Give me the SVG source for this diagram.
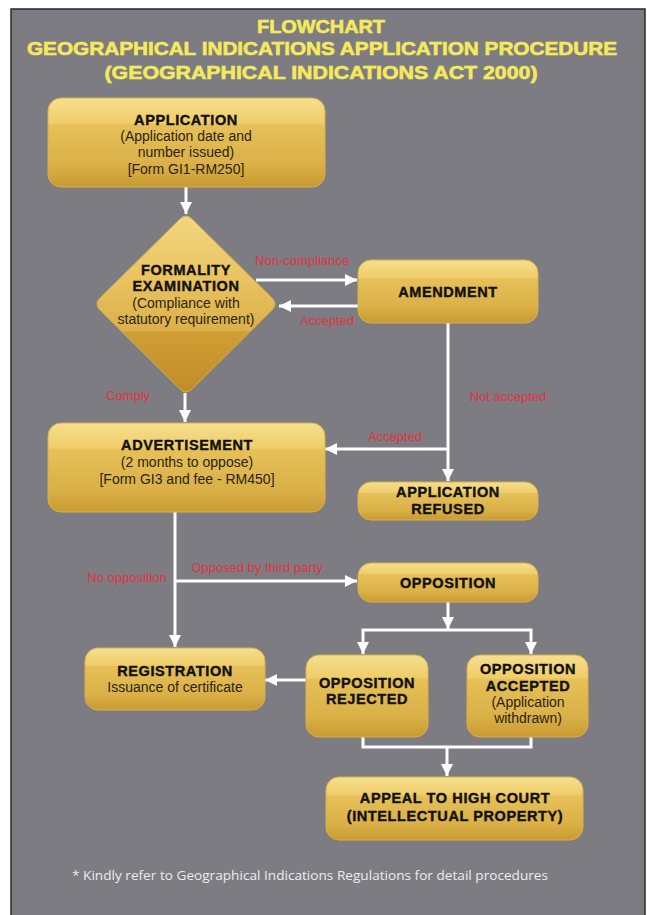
<svg xmlns="http://www.w3.org/2000/svg" width="647" height="915" viewBox="0 0 647 915">
<defs>
<linearGradient id="gold" x1="0" y1="0" x2="0" y2="1">
<stop offset="0" stop-color="#f6df8e"/>
<stop offset="0.28" stop-color="#efcd6a"/>
<stop offset="0.30" stop-color="#e7c059"/>
<stop offset="0.75" stop-color="#dab047"/>
<stop offset="1" stop-color="#c99a32"/>
</linearGradient>
<linearGradient id="goldD" x1="0" y1="0" x2="0" y2="1">
<stop offset="0" stop-color="#f3d680"/>
<stop offset="0.35" stop-color="#e9c460"/>
<stop offset="0.65" stop-color="#dcb04a"/>
<stop offset="0.66" stop-color="#cf9f35"/>
<stop offset="1" stop-color="#c08c26"/>
</linearGradient>
<marker id="ah" viewBox="0 0 12 12" refX="12" refY="6" markerWidth="12" markerHeight="12" markerUnits="userSpaceOnUse" orient="auto">
<path d="M0,0 L12,6 L0,12 z" fill="#ffffff"/>
</marker>
</defs>
<style>
.bg{fill:#7d7c82;stroke:#2a2a2a;stroke-width:1.5}
.title{font-family:"Liberation Sans",Arial,sans-serif;font-weight:bold;font-size:19px;fill:#f5ea5c;stroke:#f5ea5c;stroke-width:0.6;text-anchor:middle}
.box{fill:url(#gold);stroke:#d8b04a;stroke-width:1}
.h{font-family:"Liberation Sans",Arial,sans-serif;font-weight:bold;font-size:14.5px;letter-spacing:0.6px;fill:#111;text-anchor:middle;stroke:#111;stroke-width:0.4}
.t{font-family:"Liberation Sans",Arial,sans-serif;font-size:14px;fill:#2b2413;text-anchor:middle}
.lbl{font-family:"Liberation Sans",Arial,sans-serif;font-size:13px;fill:#e0323f;text-anchor:middle}
.c{fill:none;stroke:#ffffff;stroke-width:3}
.foot{font-family:"Open Sans","Noto Sans",sans-serif;font-size:13.5px;fill:#ececec}
</style>
<rect x="0" y="0" width="647" height="915" fill="#ffffff"/>
<rect class="bg" x="11" y="9" width="634" height="920"/>
<g id="title">
<text class="title" x="321" y="33" textLength="128" lengthAdjust="spacingAndGlyphs">FLOWCHART</text>
<text class="title" x="322" y="55" textLength="590" lengthAdjust="spacingAndGlyphs">GEOGRAPHICAL INDICATIONS APPLICATION PROCEDURE</text>
<text class="title" x="321" y="79" textLength="433" lengthAdjust="spacingAndGlyphs">(GEOGRAPHICAL INDICATIONS ACT 2000)</text>
</g>
<g id="connectors">
<path class="c" d="M186,187 L186,214" marker-end="url(#ah)"/>
<path class="c" d="M256,280 L357,280" marker-end="url(#ah)"/>
<path class="c" d="M358,306 L279,306" marker-end="url(#ah)"/>
<path class="c" d="M448,323 L448,481" marker-end="url(#ah)"/>
<path class="c" d="M448,449 L325,449" marker-end="url(#ah)"/>
<path class="c" d="M185,393 L185,422" marker-end="url(#ah)"/>
<path class="c" d="M175,512 L175,647" marker-end="url(#ah)"/>
<path class="c" d="M175,581 L357,581" marker-end="url(#ah)"/>
<path class="c" d="M448,602 L448,629" marker-end="url(#ah)"/>
<path class="c" d="M448,630 L363,630 L363,654" marker-end="url(#ah)"/>
<path class="c" d="M448,630 L531,630 L531,654" marker-end="url(#ah)"/>
<path class="c" d="M306,680 L265,680" marker-end="url(#ah)"/>
<path class="c" d="M363,737 L363,747 L531,747 L531,737"/>
<path class="c" d="M447,747 L447,776" marker-end="url(#ah)"/>
</g>
<g id="labels">
<text class="lbl" x="302" y="265">Non-compliance</text>
<text class="lbl" x="327" y="325">Accepted</text>
<text class="lbl" x="508" y="401">Not accepted</text>
<text class="lbl" x="128" y="400">Comply</text>
<text class="lbl" x="395" y="441">Accepted</text>
<text class="lbl" x="257" y="572">Opposed by third party</text>
<text class="lbl" x="127" y="582">No opposition</text>
</g>
<g id="application">
<rect class="box" x="48" y="98" width="277" height="89" rx="13"/>
<text class="h" x="186" y="125">APPLICATION</text>
<text class="t" x="186" y="141">(Application date and</text>
<text class="t" x="186" y="157">number issued)</text>
<text class="t" x="186" y="174">[Form GI1-RM250]</text>
</g>
<g id="formality">
<path d="M180,219 Q186,213 192,219 L272,298 Q278,304 272,310 L192,389 Q186,395 180,389 L100,310 Q94,304 100,298 Z" fill="url(#goldD)" stroke="#d8ae48" stroke-width="1"/>
<text class="h" x="186" y="275">FORMALITY</text>
<text class="h" x="186" y="291">EXAMINATION</text>
<text class="t" x="186" y="308">(Compliance with</text>
<text class="t" x="186" y="324">statutory requirement)</text>
</g>
<g id="amendment">
<rect class="box" x="358" y="260" width="180" height="63" rx="13"/>
<text class="h" x="448" y="297">AMENDMENT</text>
</g>
<g id="advertisement">
<rect class="box" x="48" y="423" width="277" height="89" rx="13"/>
<text class="h" x="187" y="450">ADVERTISEMENT</text>
<text class="t" x="187" y="467">(2 months to oppose)</text>
<text class="t" x="187" y="484">[Form GI3 and fee - RM450]</text>
</g>
<g id="refused">
<rect class="box" x="358" y="482" width="180" height="38" rx="13"/>
<text class="h" x="448" y="497">APPLICATION</text>
<text class="h" x="448" y="514">REFUSED</text>
</g>
<g id="opposition">
<rect class="box" x="358" y="563" width="180" height="39" rx="13"/>
<text class="h" x="448" y="588">OPPOSITION</text>
</g>
<g id="registration">
<rect class="box" x="85" y="648" width="180" height="62" rx="13"/>
<text class="h" x="175" y="676">REGISTRATION</text>
<text class="t" x="175" y="692">Issuance of certificate</text>
</g>
<g id="rejected">
<rect class="box" x="306" y="655" width="122" height="82" rx="13"/>
<text class="h" x="367" y="688">OPPOSITION</text>
<text class="h" x="367" y="704">REJECTED</text>
</g>
<g id="accepted">
<rect class="box" x="467" y="655" width="121" height="82" rx="13"/>
<text class="h" x="528" y="674">OPPOSITION</text>
<text class="h" x="528" y="691">ACCEPTED</text>
<text class="t" x="528" y="707">(Application</text>
<text class="t" x="528" y="723">withdrawn)</text>
</g>
<g id="appeal">
<rect class="box" x="326" y="777" width="257" height="63" rx="13"/>
<text class="h" x="455" y="803">APPEAL TO HIGH COURT</text>
<text class="h" x="455" y="821">(INTELLECTUAL PROPERTY)</text>
</g>
<g id="footnote">
<text class="foot" x="72" y="880" textLength="476" lengthAdjust="spacingAndGlyphs">* Kindly refer to Geographical Indications Regulations for detail procedures</text>
</g>
</svg>
